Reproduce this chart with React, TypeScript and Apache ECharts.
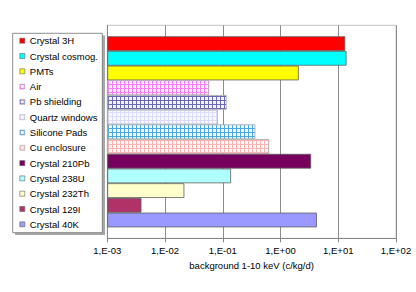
import React, { useEffect, useRef } from "react";
import * as echarts from "echarts";

const seriesNames = [
  "Crystal 3H",
  "Crystal cosmog.",
  "PMTs",
  "Air",
  "Pb shielding",
  "Quartz windows",
  "Silicone Pads",
  "Cu enclosure",
  "Crystal 210Pb",
  "Crystal 238U",
  "Crystal 232Th",
  "Crystal 129I",
  "Crystal 40K",
];

const seriesValues = [13.2, 13.9, 2.07, 0.058, 0.117, 0.082, 0.367, 0.634, 3.39, 0.139, 0.0216, 0.0039, 4.26];

const tickLabels = ["1,E-03", "1,E-02", "1,E-01", "1,E+00", "1,E+01", "1,E+02"];

const category = ["background"];

// fill: solid colour or [background, line colour] grid pattern
const fills: (string | [string, string])[] = [
  "#FF0000",
  "#00FFFF",
  "#FFFF00",
  ["#FFF4FF", "#FF7CFF"],
  ["#F4F4FA", "#6A6AB4"],
  ["#F8F8FF", "#DCDCFF"],
  ["#F4FAFF", "#4CA8E4"],
  ["#FFF8F8", "#FFB4B4"],
  "#77005F",
  "#AFFFFF",
  "#FFFFCC",
  "#AF3366",
  "#9999FF",
];

function makePattern(bg: string, line: string) {
  const c = document.createElement("canvas");
  c.width = 4;
  c.height = 4;
  const ctx = c.getContext("2d")!;
  ctx.fillStyle = bg;
  ctx.fillRect(0, 0, 4, 4);
  ctx.fillStyle = line;
  ctx.fillRect(0, 0, 4, 1);
  ctx.fillRect(0, 0, 1, 4);
  return { image: c, repeat: "repeat", imageWidth: 4, imageHeight: 4 } as any;
}

export default function App() {
  const ref = useRef<HTMLDivElement>(null);
  useEffect(() => {
    if (!ref.current) return;
    const chart = echarts.init(ref.current, undefined, { renderer: "svg" });
    const font = "'Liberation Sans', Arial, sans-serif";
    const series = seriesNames.map((name, i) => {
      const f = fills[i];
      const isPattern = Array.isArray(f);
      return {
        type: "bar",
        name,
        data: [seriesValues[i]],
        barWidth: 14.7,
        barGap: "0%",
        itemStyle: {
          color: isPattern ? makePattern(f[0], f[1]) : f,
          borderColor: isPattern ? "#A8A8A8" : "#606060",
          borderWidth: 0.8,
        },
      };
    });
    chart.setOption({
      animation: false,
      backgroundColor: "#FFFFFF",
      graphic: [
        { type: "rect", shape: { x: 15, y: 35.5, width: 90, height: 199.5 }, style: { fill: "#A8A8A8" }, z: 0 },
        { type: "rect", shape: { x: 12.7, y: 33.3, width: 89.6, height: 199.4 }, style: { fill: "#FFFFFF", stroke: "#707070", lineWidth: 0.8 }, z: 1 },
      ],
      legend: {
        orient: "vertical",
        left: 19.5,
        top: 35.7,
        padding: 0,
        itemWidth: 5,
        itemHeight: 5,
        itemGap: 5.3,
        icon: "rect",
        selectedMode: false,
        itemStyle: { borderWidth: 0.6 },
        textStyle: { fontSize: 9.5, fontFamily: font, color: "#000", lineHeight: 10 },
        data: seriesNames,
        z: 5,
      },
      grid: {
        left: 107.3,
        right: 20,
        top: 25.3,
        bottom: 53.7,
        show: true,
        borderColor: "#C4C4C4",
        borderWidth: 1,
      },
      xAxis: {
        type: "log",
        logBase: 10,
        min: 0.001,
        max: 100,
        startValue: 0.001,
        name: "background 1-10 keV (c/kg/d)",
        nameLocation: "middle",
        nameGap: 21,
        nameTextStyle: { fontSize: 9.5, fontFamily: font, color: "#000" },
        axisLine: { show: true, lineStyle: { color: "#888", width: 1 } },
        axisTick: { show: true, length: 4, lineStyle: { color: "#888" } },
        minorTick: { show: false },
        axisLabel: {
          fontSize: 9.5,
          fontFamily: font,
          color: "#000",
          margin: 7,
          formatter: (_v: number, idx: number) => tickLabels[idx] ?? "",
        },
        splitLine: { show: true, lineStyle: { color: "#8C8C8C", width: 1 } },
      },
      yAxis: {
        type: "category",
        data: category,
        inverse: true,
        axisLine: { show: true, lineStyle: { color: "#888" } },
        axisTick: { show: false },
        axisLabel: { show: false },
      },
      series,
    });
    return () => chart.dispose();
  }, []);
  return <div ref={ref} style={{ position: "fixed", left: 0, top: 0, width: 416, height: 292 }} />;
}
